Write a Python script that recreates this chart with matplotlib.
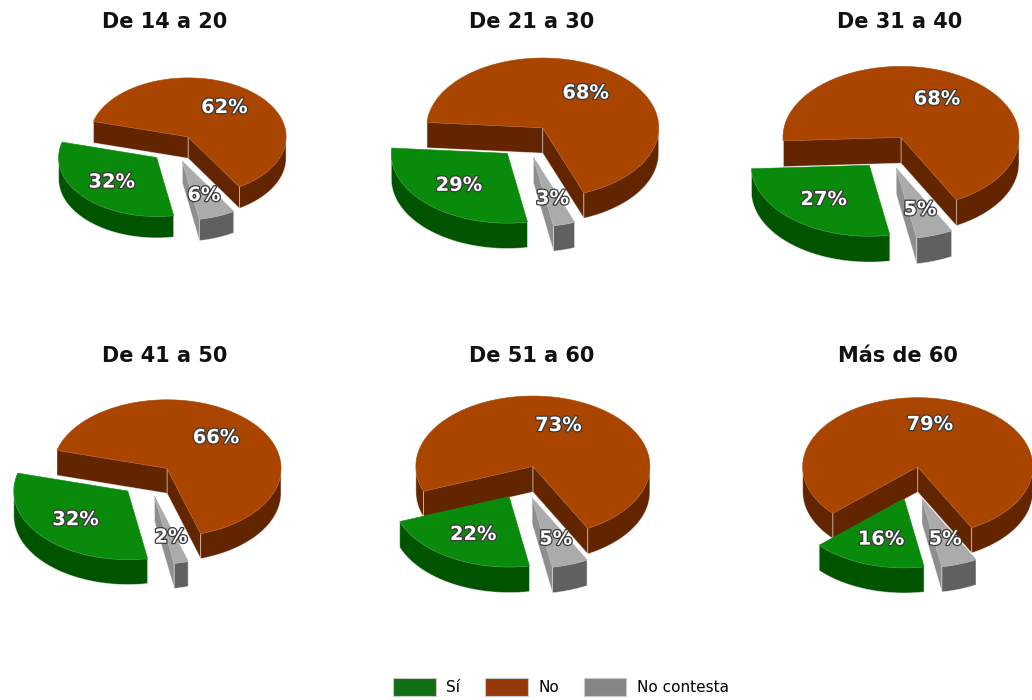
import numpy as np
import matplotlib
matplotlib.use('Agg')
import matplotlib.pyplot as plt
from matplotlib.patches import Polygon, Patch
import matplotlib.patheffects as pe

# ---- data ----
groups = ['De 14 a 20', 'De 21 a 30', 'De 31 a 40', 'De 41 a 50', 'De 51 a 60', 'Más de 60']
categories = ['Sí', 'No', 'No contesta']
si = [32, 29, 27, 32, 22, 16]
no = [62, 68, 68, 66, 73, 79]
nc = [6, 3, 5, 2, 5, 5]

# ---- layout / style ----
W, H = 1032, 700
centers = [(174, 148), (526, 141), (887, 152), (148, 480), (523, 482), (913, 483)]
radii = [98, 116, 118, 114, 117, 115]
title_pos = [(165, 22), (532, 22), (900, 22), (165, 356), (532, 356), (898, 356)]
TILT = 0.6
DEPTH = 0.22
START = 280                      # slices laid out clockwise from here: Sí, No, No contesta
EXPLODE = 0.24
PAINT_ORDER = [1, 0, 2]          # back to front
top_col = {0: '#0a8a0a', 1: '#aa4500', 2: '#ababab'}
wall_col = {0: '#005400', 1: '#632400', 2: '#606060'}
radial_col = {0: '#005400', 1: '#632400', 2: '#8e8e8e'}
legend_col = ['#127012', '#963808', '#858585']

fig = plt.figure(figsize=(W / 100, H / 100), dpi=100)


def visible_ranges(a1, a2):
    """Parts of [a1, a2] (degrees) whose sine is negative (front half)."""
    out = []
    k = np.floor(a1 / 360.0) - 1
    while 360 * k + 180 < a2:
        lo = max(a1, 360 * k + 180)
        hi = min(a2, 360 * k + 360)
        if hi > lo:
            out.append((lo, hi))
        k += 1
    return out


def draw_pie(ax, vals):
    total = float(sum(vals))
    a = START
    spans = {}
    for idx in range(len(vals)):
        span = 360.0 * vals[idx] / total
        spans[idx] = (a - span, a)     # stored counter-clockwise
        a -= span
    for idx in PAINT_ORDER:
        a1, a2 = spans[idx]
        mid = np.radians((a1 + a2) / 2)
        ox, oy = EXPLODE * np.cos(mid), EXPLODE * np.sin(mid)

        def P(t, z=0.0, r=1.0):
            return (ox + r * np.cos(t), (oy + r * np.sin(t)) * TILT + z)

        ctop = (ox, oy * TILT)
        cbot = (ox, oy * TILT - DEPTH)
        t1, t2 = np.radians(a1), np.radians(a2)
        walls = []
        if np.cos(t1) > 0:
            walls.append([ctop, P(t1), P(t1, -DEPTH), cbot])
        if np.cos(t2) < 0:
            walls.append([ctop, P(t2), P(t2, -DEPTH), cbot])
        for w in walls:
            ax.add_patch(Polygon(w, closed=True, facecolor=radial_col[idx],
                                 edgecolor=(1, 1, 1, 0.5), lw=0.6, clip_on=False))
        for lo, hi in visible_ranges(a1, a2):
            th = np.radians(np.linspace(lo, hi, 120))
            topr = [P(t) for t in th]
            botr = [P(t, -DEPTH) for t in th[::-1]]
            ax.add_patch(Polygon(topr + botr, closed=True, facecolor=wall_col[idx],
                                 edgecolor=(1, 1, 1, 0.5), lw=0.6, clip_on=False))
        th = np.radians(np.linspace(a1, a2, 200))
        pts = [ctop] + [P(t) for t in th]
        ax.add_patch(Polygon(pts, closed=True, facecolor=top_col[idx],
                             edgecolor=top_col[idx], lw=0.4, clip_on=False))
        lx, ly = P(mid, 0.0, 0.62)
        ax.text(lx, ly, f'{vals[idx]}%', ha='center', va='center', color='white',
                fontsize=14, fontweight='bold', zorder=10,
                path_effects=[pe.withStroke(linewidth=1.8, foreground='#3a3a3a')])


bw, bh = 170, 150
for i, g in enumerate(groups):
    cx, cy = centers[i]
    R = radii[i]
    ax = fig.add_axes([(cx - bw) / W, 1 - (cy + bh) / H, 2 * bw / W, 2 * bh / H])
    ax.set_xlim(-bw / R, bw / R)
    ax.set_ylim(-bh / R, bh / R)
    ax.axis('off')
    draw_pie(ax, [si[i], no[i], nc[i]])
    tx, ty = title_pos[i]
    fig.text(tx / W, 1 - ty / H, g, ha='center', va='center', fontsize=15,
             fontweight='bold', color='#111111')

handles = [Patch(facecolor=legend_col[k], edgecolor='#c8c8c8', lw=0.8) for k in range(3)]
fig.legend(handles, categories, loc='center', bbox_to_anchor=(561 / W, 1 - 687 / H),
           ncol=3, frameon=False, fontsize=11, handlelength=2.8, handleheight=1.4,
           handletextpad=0.7, columnspacing=1.6)

fig.savefig('out.png', dpi=100, facecolor='white')
